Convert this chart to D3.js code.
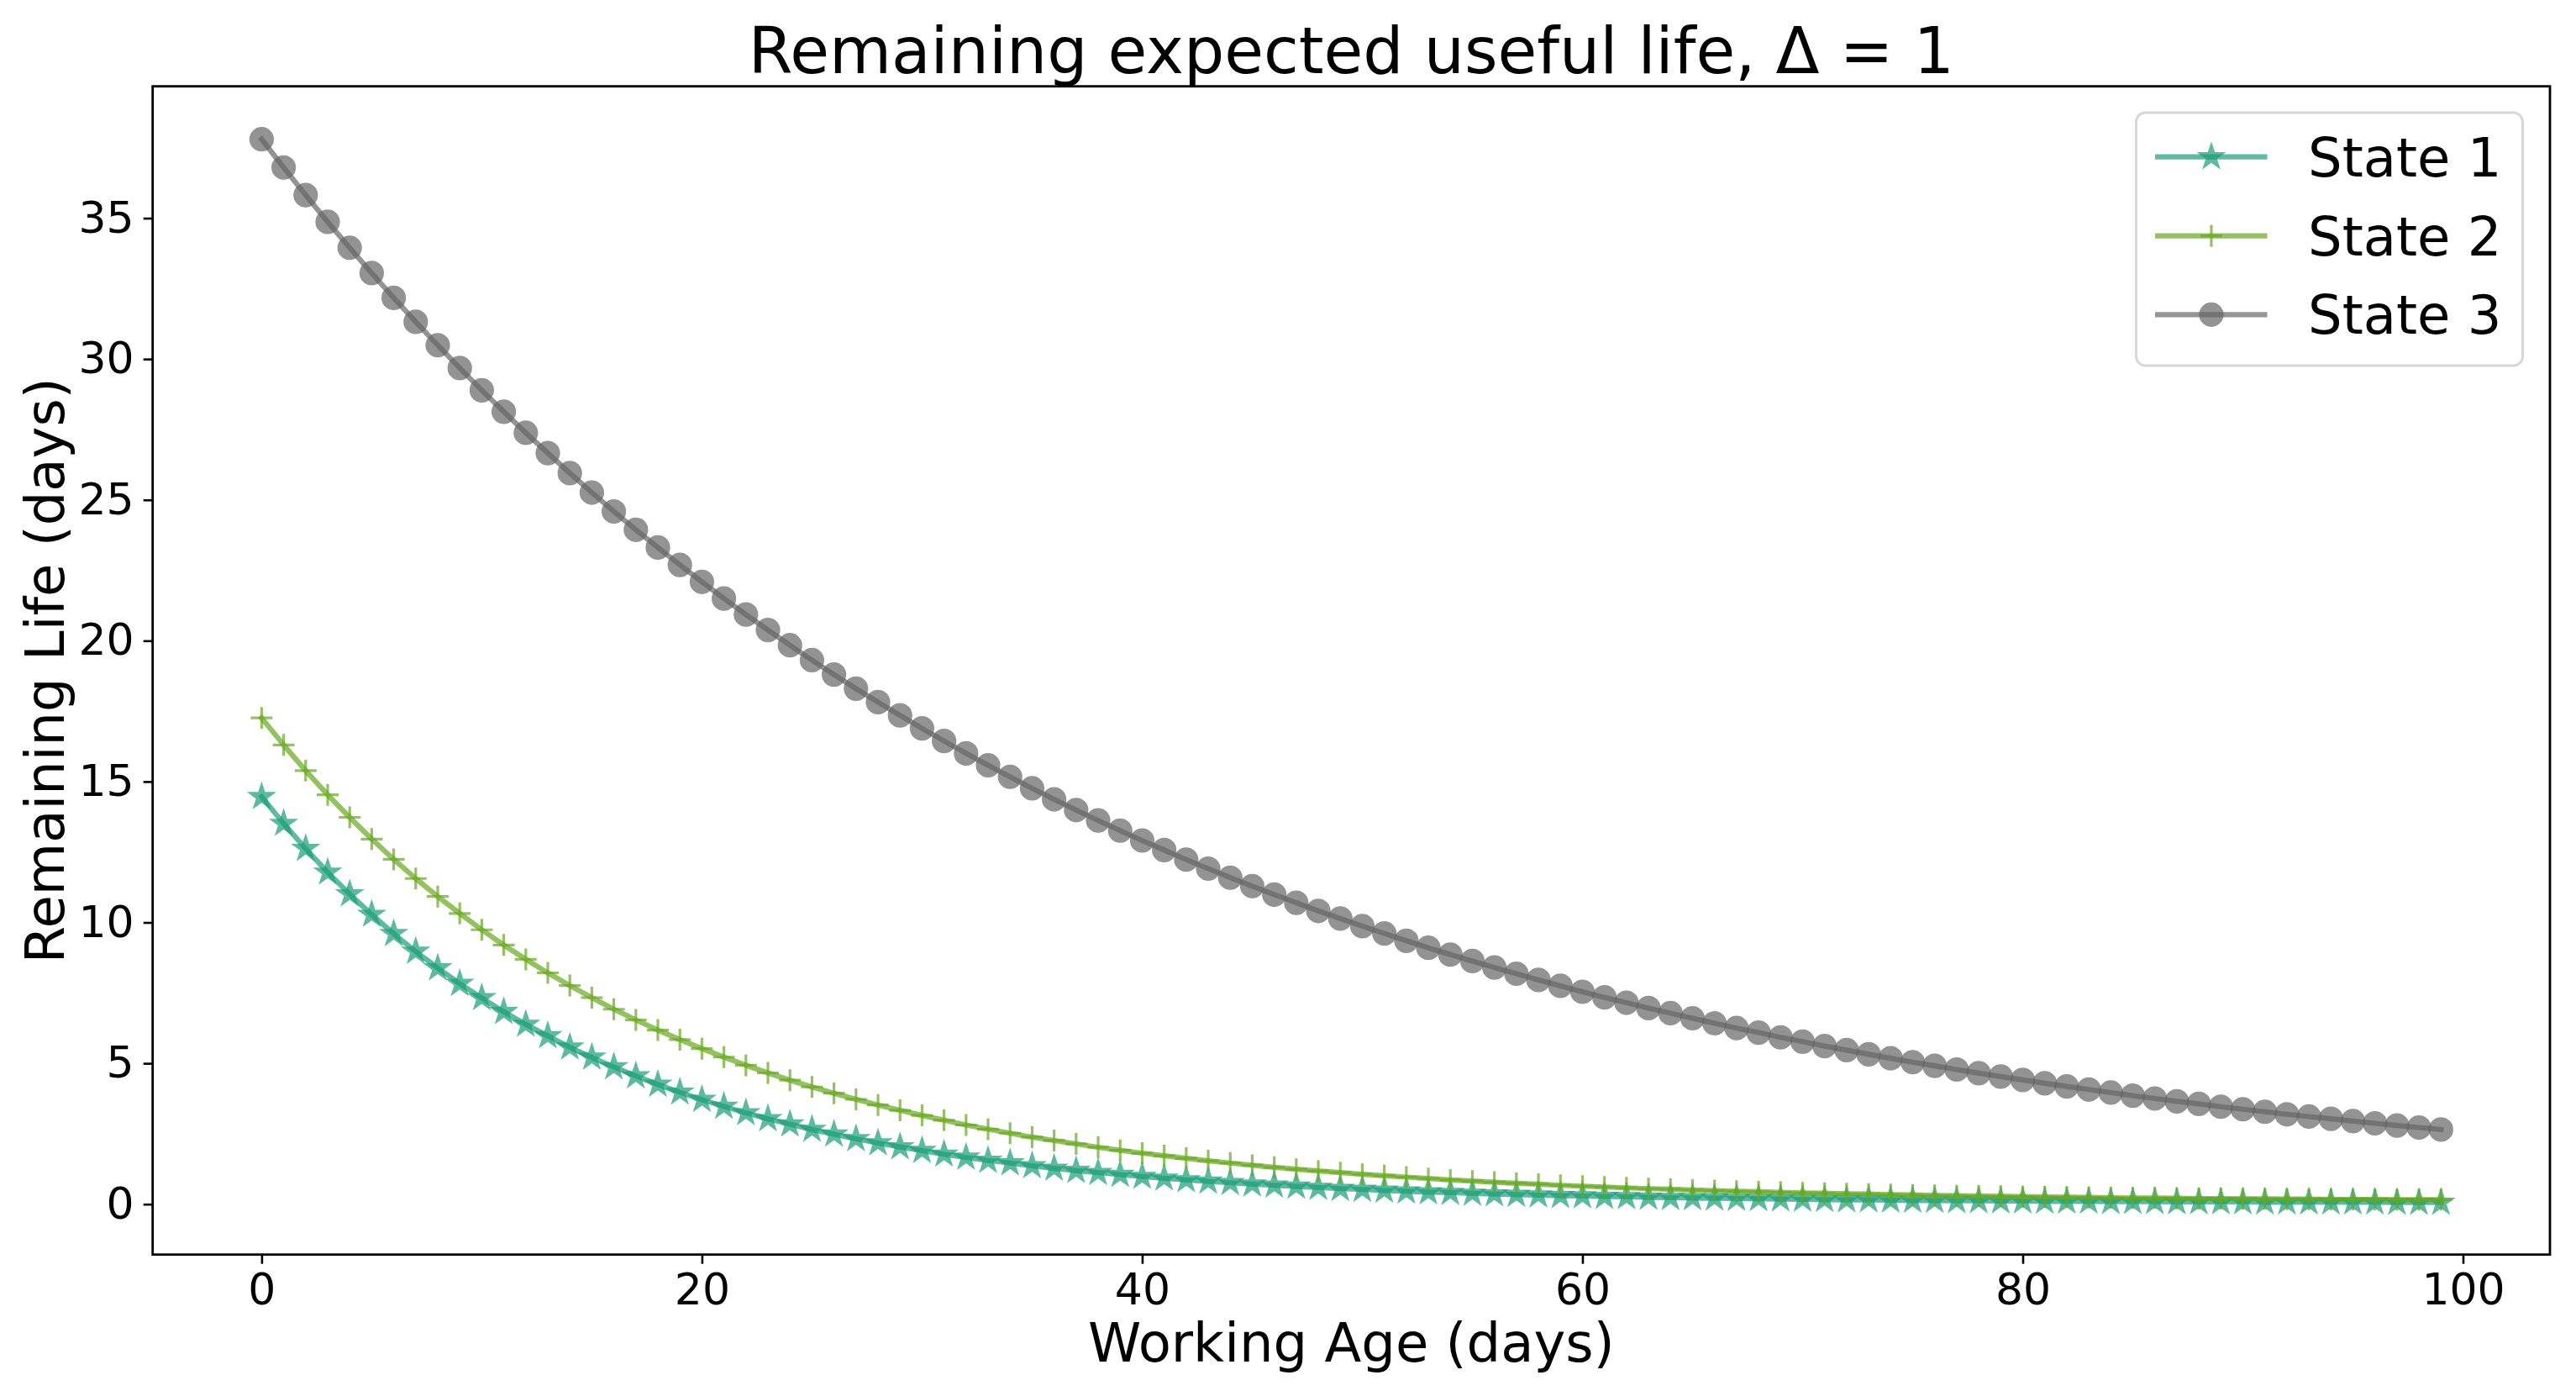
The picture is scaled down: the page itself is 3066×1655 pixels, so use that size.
<!DOCTYPE html>
<html>
<head>
<meta charset="utf-8">
<script src="https://cdn.jsdelivr.net/npm/d3@7"></script>
<style>
  body { margin: 0; background: white; }
  text { font-family: "DejaVu Sans", sans-serif; }
</style>
</head>
<body>
<div id="chart"></div>
<script>
// data
const workingAge = d3.range(0, 100);
const state1 = [14.46, 13.51, 12.62, 11.78, 11.01, 10.28, 9.60, 8.97, 8.38, 7.83,
    7.32, 6.83, 6.38, 5.97, 5.57, 5.21, 4.87, 4.55, 4.25, 3.97,
    3.71, 3.47, 3.24, 3.03, 2.84, 2.65, 2.48, 2.32, 2.17, 2.03,
    1.90, 1.77, 1.66, 1.55, 1.46, 1.36, 1.27, 1.19, 1.12, 1.05,
    0.98, 0.92, 0.86, 0.81, 0.76, 0.71, 0.67, 0.63, 0.59, 0.55,
    0.52, 0.49, 0.46, 0.43, 0.41, 0.38, 0.36, 0.34, 0.32, 0.30,
    0.29, 0.27, 0.26, 0.24, 0.23, 0.22, 0.21, 0.20, 0.19, 0.18,
    0.17, 0.16, 0.15, 0.15, 0.14, 0.13, 0.13, 0.12, 0.12, 0.11,
    0.11, 0.10, 0.10, 0.10, 0.09, 0.09, 0.09, 0.08, 0.08, 0.08,
    0.08, 0.07, 0.07, 0.07, 0.07, 0.07, 0.07, 0.06, 0.06, 0.06];
const state2 = [17.26, 16.30, 15.39, 14.53, 13.73, 12.96, 12.24, 11.56, 10.92, 10.32,
    9.74, 9.20, 8.69, 8.21, 7.76, 7.33, 6.92, 6.54, 6.18, 5.84,
    5.52, 5.22, 4.93, 4.66, 4.40, 4.16, 3.94, 3.72, 3.52, 3.33,
    3.15, 2.98, 2.81, 2.66, 2.52, 2.38, 2.26, 2.14, 2.02, 1.91,
    1.81, 1.72, 1.63, 1.54, 1.46, 1.38, 1.31, 1.24, 1.18, 1.12,
    1.06, 1.01, 0.96, 0.91, 0.86, 0.82, 0.78, 0.74, 0.71, 0.67,
    0.64, 0.61, 0.58, 0.55, 0.53, 0.50, 0.48, 0.46, 0.44, 0.42,
    0.40, 0.39, 0.37, 0.36, 0.34, 0.33, 0.31, 0.30, 0.29, 0.28,
    0.27, 0.26, 0.25, 0.24, 0.23, 0.22, 0.22, 0.21, 0.20, 0.20,
    0.19, 0.19, 0.18, 0.18, 0.17, 0.17, 0.17, 0.16, 0.16, 0.16];
const state3 = [37.80, 36.80, 35.82, 34.87, 33.95, 33.05, 32.17, 31.32, 30.49, 29.68,
    28.89, 28.13, 27.38, 26.66, 25.95, 25.26, 24.59, 23.94, 23.31, 22.69,
    22.09, 21.50, 20.93, 20.38, 19.84, 19.31, 18.80, 18.30, 17.82, 17.35,
    16.89, 16.44, 16.00, 15.58, 15.17, 14.76, 14.37, 13.99, 13.62, 13.26,
    12.91, 12.57, 12.23, 11.91, 11.59, 11.29, 10.99, 10.70, 10.41, 10.14,
    9.87, 9.61, 9.35, 9.10, 8.86, 8.63, 8.40, 8.18, 7.96, 7.75,
    7.54, 7.34, 7.15, 6.96, 6.78, 6.60, 6.42, 6.25, 6.09, 5.92,
    5.77, 5.61, 5.47, 5.32, 5.18, 5.04, 4.91, 4.78, 4.65, 4.53,
    4.41, 4.29, 4.18, 4.07, 3.96, 3.85, 3.75, 3.65, 3.56, 3.46,
    3.37, 3.28, 3.19, 3.11, 3.03, 2.95, 2.87, 2.79, 2.72, 2.65];
const seriesNames = ["State 1", "State 2", "State 3"];
const seriesColors = ["#1b9e77", "#66a61e", "#666666"];
const seriesMarkers = ["star", "plus", "circle"];
const xTicks = [0, 20, 40, 60, 80, 100];
const yTicks = [0, 5, 10, 15, 20, 25, 30, 35];

// layout
const W = 3066, H = 1655;
const margin = { top: 102.7, right: 31, bottom: 162.3, left: 181.7 };
const width = W - margin.left - margin.right;
const height = H - margin.top - margin.bottom;
const alpha = 0.7;

const svgRoot = d3.select("#chart")
    .append("svg")
    .attr("width", W)
    .attr("height", H);

const svg = svgRoot.append("g")
    .attr("transform", `translate(${margin.left},${margin.top})`);

const x = d3.scaleLinear().domain([-4.95, 103.95]).range([0, width]);
const y = d3.scaleLinear().domain([-1.79, 39.68]).range([height, 0]);

// axes
const xAxis = svg.append("g")
    .attr("transform", `translate(0,${height})`)
    .call(d3.axisBottom(x).tickValues(xTicks).tickSize(11).tickPadding(11).tickFormat(d3.format("d")));
const yAxis = svg.append("g")
    .call(d3.axisLeft(y).tickValues(yTicks).tickSize(11).tickPadding(11).tickFormat(d3.format("d")));
[xAxis, yAxis].forEach(a => {
    a.select(".domain").remove();
    a.selectAll(".tick line").attr("stroke", "black").attr("stroke-width", 2.6);
    a.selectAll(".tick text")
        .attr("font-family", "DejaVu Sans")
        .attr("font-size", "52px")
        .attr("fill", "black");
});

// markers
function markerPath(kind) {
    if (kind === "star") return d3.symbol().type(d3.symbolStar).size(200)();
    if (kind === "circle") return d3.symbol().type(d3.symbolCircle).size(Math.PI * 13 * 13)();
    return "M-13,0H13M0,-13V13";
}

const seriesData = [state1, state2, state3];
const line = d3.line().x((d, i) => x(workingAge[i])).y(d => y(d));

seriesData.forEach((vals, si) => {
    const color = seriesColors[si];
    const g = svg.append("g").attr("class", "series");
    g.append("path")
        .datum(vals)
        .attr("d", line)
        .attr("fill", "none")
        .attr("stroke", color)
        .attr("stroke-opacity", alpha)
        .attr("stroke-width", 6.2)
        .attr("stroke-linejoin", "round")
        .attr("stroke-linecap", "square");
    const kind = seriesMarkers[si];
    g.selectAll(".mk")
        .data(vals)
        .enter().append("path")
        .attr("class", "mk")
        .attr("transform", (d, i) => `translate(${x(workingAge[i])},${y(d)})`)
        .attr("d", markerPath(kind))
        .attr("fill", kind === "plus" ? "none" : color)
        .attr("stroke", color)
        .attr("stroke-width", 3.2)
        .attr("opacity", alpha);
});

// frame
svg.append("rect")
    .attr("width", width)
    .attr("height", height)
    .attr("fill", "none")
    .attr("stroke", "black")
    .attr("stroke-width", 2.8);

// title + labels
svgRoot.append("text")
    .attr("x", margin.left + width / 2)
    .attr("y", 87)
    .attr("text-anchor", "middle")
    .attr("font-size", "76px")
    .text("Remaining expected useful life, Δ = 1");

svgRoot.append("text")
    .attr("x", margin.left + width / 2)
    .attr("y", 1620)
    .attr("text-anchor", "middle")
    .attr("font-size", "64px")
    .text("Working Age (days)");

svgRoot.append("text")
    .attr("transform", `translate(76,${margin.top + height / 2}) rotate(-90)`)
    .attr("text-anchor", "middle")
    .attr("font-size", "64px")
    .text("Remaining Life (days)");

// legend
const legend = svgRoot.append("g");
legend.append("rect")
    .attr("x", 2542.5).attr("y", 134)
    .attr("width", 460).attr("height", 301)
    .attr("rx", 11)
    .attr("fill", "white").attr("fill-opacity", 0.8)
    .attr("stroke", "#d6d6d6").attr("stroke-width", 3);

const rowY = [186.7, 280.7, 374.3];
seriesNames.forEach((name, i) => {
    const color = seriesColors[i];
    legend.append("line")
        .attr("x1", 2565).attr("x2", 2698.5)
        .attr("y1", rowY[i]).attr("y2", rowY[i])
        .attr("stroke", color).attr("stroke-opacity", alpha)
        .attr("stroke-width", 6.2);
    legend.append("path")
        .attr("transform", `translate(2632,${rowY[i]})`)
        .attr("d", markerPath(seriesMarkers[i]))
        .attr("fill", seriesMarkers[i] === "plus" ? "none" : color)
        .attr("stroke", color)
        .attr("stroke-width", 3.2)
        .attr("opacity", alpha);
    legend.append("text")
        .attr("x", 2747)
        .attr("y", rowY[i] + 23)
        .attr("font-size", "64px")
        .text(name);
});
</script>
</body>
</html>
